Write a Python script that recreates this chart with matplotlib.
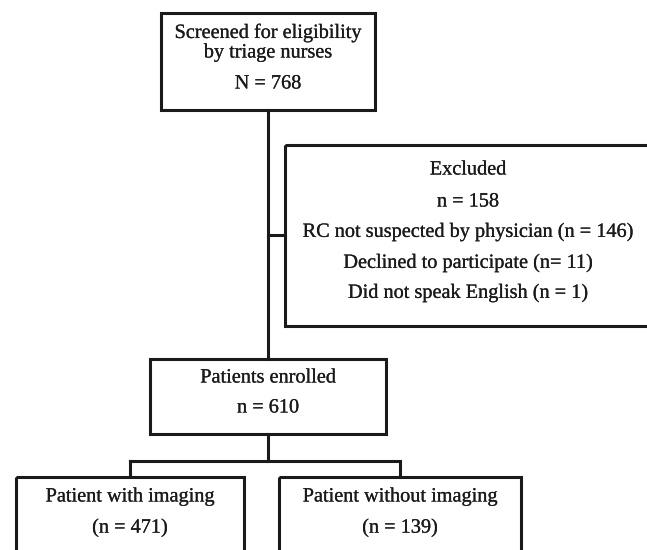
import matplotlib
matplotlib.use("Agg")
import matplotlib.pyplot as plt
from matplotlib.patches import Rectangle
import matplotlib.patheffects as pe

# box contents
screened_lines = ["Screened for eligibility", "by triage nurses", "N = 768"]
excluded_lines = ["Excluded", "n = 158", "RC not suspected by physician (n = 146)",
                  "Declined to participate (n= 11)", "Did not speak English (n = 1)"]
enrolled_lines = ["Patients enrolled", "n = 610"]
imaging_lines = ["Patient with imaging", "(n = 471)"]
no_imaging_lines = ["Patient without imaging", "(n = 139)"]

ink = "#1a1a1a"
lw = 2.2
fs = 14.6

fig = plt.figure(figsize=(6.47, 5.5), dpi=100)
ax = fig.add_axes([0, 0, 1, 1])
ax.set_xlim(0, 647)
ax.set_ylim(550, 0)
ax.axis("off")

bold_ish = [pe.withStroke(linewidth=0.15, foreground=ink)]


def box(x0, y0, x1, y1, lines, ys, cx=None):
    ax.add_patch(Rectangle((x0, y0), x1 - x0, y1 - y0, fill=False,
                           edgecolor=ink, lw=lw, joinstyle="miter"))
    if cx is None:
        cx = (x0 + x1) / 2
    for t, y in zip(lines, ys):
        ax.text(cx, y, t, ha="center", va="center", fontsize=fs,
                family="Liberation Serif", color=ink, path_effects=bold_ish)


box(161, 13, 375, 110, screened_lines, [33, 53, 84])
box(285, 145, 660, 326, excluded_lines, [170, 202, 232, 263, 293], cx=468)
box(150, 359, 386, 434, enrolled_lines, [378, 408])
box(16, 477, 244, 570, imaging_lines, [497, 528])
box(279, 477, 521, 570, no_imaging_lines, [497, 528])

# connectors
ax.plot([268, 268], [110, 359], color=ink, lw=lw)
ax.plot([268, 285], [235, 235], color=ink, lw=lw)
ax.plot([268, 268], [434, 461], color=ink, lw=lw)
ax.plot([130, 400], [461, 461], color=ink, lw=lw, solid_joinstyle="miter")
ax.plot([130, 130], [461, 477], color=ink, lw=lw)
ax.plot([400, 400], [461, 477], color=ink, lw=lw)

fig.savefig("out.png", dpi=100, facecolor="white")
